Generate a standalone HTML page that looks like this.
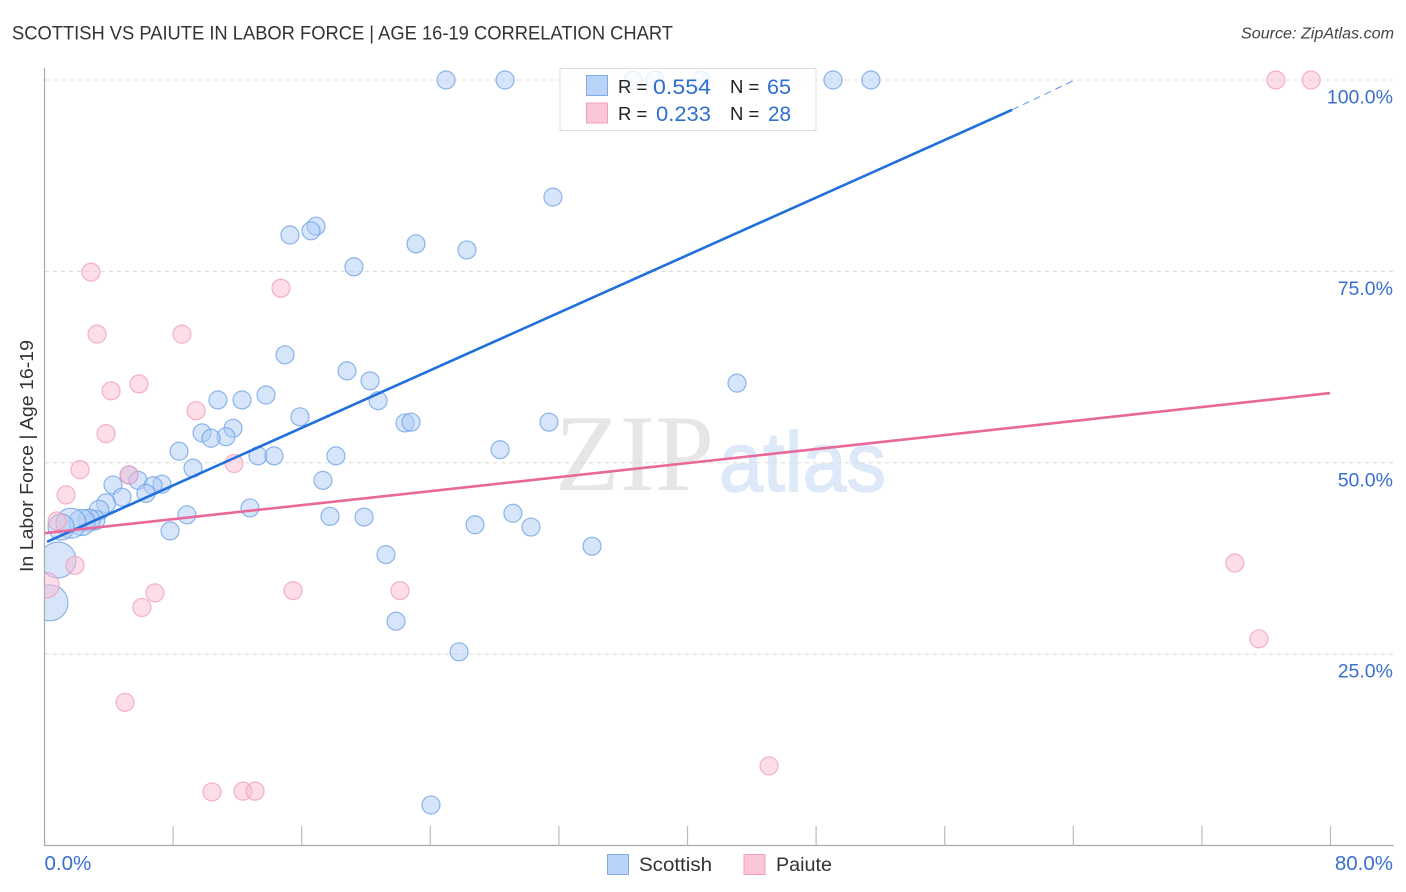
<!DOCTYPE html>
<html lang="en">
<head>
<meta charset="utf-8">
<title>Scottish vs Paiute in Labor Force | Age 16-19 Correlation Chart</title>
<style>
html,body{margin:0;padding:0;background:#fff;width:1406px;height:892px;overflow:hidden}
svg{display:block;font-family:"Liberation Sans",sans-serif}
</style>
</head>
<body>
<svg id="chart" width="1406" height="892" viewBox="0 0 1406 892" xmlns="http://www.w3.org/2000/svg">
  <defs>
    <clipPath id="plot-clip"><rect x="44.5" y="60" width="1350" height="785.5"/></clipPath>
  </defs>
  <text x="12" y="39.5" font-size="19.5" fill="#333" textLength="661" lengthAdjust="spacingAndGlyphs">SCOTTISH VS PAIUTE IN LABOR FORCE | AGE 16-19 CORRELATION CHART</text>
  <text x="1241" y="38.5" font-size="15.5" font-style="italic" fill="#444" textLength="153" lengthAdjust="spacingAndGlyphs">Source: ZipAtlas.com</text>
  <text x="555" y="490" font-family="'Liberation Serif',serif" font-size="109" fill="#e6e6e6" textLength="159" lengthAdjust="spacingAndGlyphs">ZIP</text>
  <text x="719" y="491" font-family="'Liberation Sans',sans-serif" font-size="84" fill="#dde8f8" stroke="#dde8f8" stroke-width="1.5" textLength="167" lengthAdjust="spacingAndGlyphs">atlas</text>
  <g id="grid"></g>
  <g id="points-scottish" clip-path="url(#plot-clip)"></g>
  <g id="points-paiute" clip-path="url(#plot-clip)"></g>
  <g id="trends"></g>
  <g id="axes"></g>
  <g id="tick-labels"></g>
  <text transform="translate(33,456) rotate(-90)" font-size="18.5" fill="#333" text-anchor="middle" textLength="232" lengthAdjust="spacingAndGlyphs">In Labor Force | Age 16-19</text>

  <g>
    <rect x="560" y="68.5" width="256" height="62" fill="#fff" fill-opacity="0.8" stroke="#ddd"/>
    <rect x="586.5" y="75.5" width="21" height="20" fill="#b9d4f8" stroke="#7fabe6"/>
    <rect x="586.5" y="103" width="21" height="20" fill="#fcc6d9" stroke="#f3a0bd"/>
    <text x="618" y="93" font-size="18.5" fill="#222">R =</text>
    <text x="653" y="94" font-size="21" fill="#2f6fd0" textLength="58" lengthAdjust="spacingAndGlyphs">0.554</text>
    <text x="730" y="93" font-size="18.5" fill="#222">N =</text>
    <text x="767" y="94" font-size="21" fill="#2f6fd0" textLength="24" lengthAdjust="spacingAndGlyphs">65</text>
    <text x="618" y="120" font-size="18.5" fill="#222">R =</text>
    <text x="656" y="121" font-size="21" fill="#2f6fd0" textLength="55" lengthAdjust="spacingAndGlyphs">0.233</text>
    <text x="730" y="120" font-size="18.5" fill="#222">N =</text>
    <text x="768" y="121" font-size="21" fill="#2f6fd0" textLength="23" lengthAdjust="spacingAndGlyphs">28</text>
  </g>

  <g>
    <rect x="607.5" y="854.5" width="21" height="20" fill="#b9d4f8" stroke="#7fabe6"/>
    <text x="639" y="871" font-size="19.5" fill="#333" textLength="73" lengthAdjust="spacingAndGlyphs">Scottish</text>
    <rect x="744" y="854.5" width="21" height="20" fill="#fcc6d9" stroke="#f3a0bd"/>
    <text x="776" y="871" font-size="19.5" fill="#333" textLength="56" lengthAdjust="spacingAndGlyphs">Paiute</text>
  </g>
</svg>
<script>
var xTickValues = [8, 16, 24, 32, 40, 48, 56, 64, 72, 80];
var yTickValues = [25, 50, 75, 100];
var yTickLabels = ['25.0%', '50.0%', '75.0%', '100.0%'];
var xEdgeValues = [0, 80];
var xEdgeLabels = ['0.0%', '80.0%'];

var scottishX = [24.98,28.65,36.61,37.98,40.84,49.05,51.41,31.63,16.89,16.58,15.27,23.11,26.28,19.25,14.96,18.82,20.25,43.08,13.78,10.79,12.29,20.75,15.89,22.43,22.8,31.38,11.73,9.8,11.29,10.36,8.37,28.34,13.28,14.28,18.13,9.24,17.32,5.26,5.82,7.31,6.75,4.26,6.31,4.82,3.83,3.39,12.78,8.86,17.76,19.88,29.14,26.78,30.26,7.81,34.06,21.24,21.87,25.79,24.04,3.14,2.77,2.33,1.65,1.03,0.84,0.34];
var scottishY = [100,100,100,100,100,100,100,84.7,80.9,80.3,79.75,78.6,77.8,75.6,64.1,62.0,60.7,60.4,58.85,58.2,58.2,58.1,56.0,55.2,55.3,55.3,54.5,53.9,53.4,53.2,51.5,51.7,50.9,50.9,50.9,49.3,47.7,48.4,47.7,47.2,47.0,47.1,46.0,45.5,44.7,43.8,44.1,43.2,43.0,42.9,43.4,41.9,41.6,41.1,39.1,38.0,29.3,25.3,5.3,42.5,42.5,42.2,42.1,41.6,37.3,31.7];
var scottishWeight = [1,1,1,1,1,1,1,1,1,1,1,1,1,1,1,1,1,1,1,1,1,1,1,1,1,1,1,1,1,1,1,1,1,1,1,1,1,1,1,1,1,1,1,1,1.1,1.2,1,1,1,1,1,1,1,1,1,1,1,1,1,1.2,1.5,2.1,2.8,2.1,4,4];

var paiuteX = [76.6,78.8,2.89,14.71,3.27,8.55,5.88,4.14,9.43,3.83,11.79,2.21,5.26,1.34,0.78,1.9,74.05,0.12,6.87,6.06,15.46,22.11,75.55,5.01,45.07,10.42,12.35,13.1];
var paiuteY = [100,100,74.9,72.8,66.8,66.8,60.3,59.4,56.8,53.8,49.9,49.1,48.4,45.8,42.4,36.6,36.9,34.0,33.0,31.1,33.3,33.3,27.0,18.7,10.4,7.0,7.1,7.1];
var paiuteWeight = [1,1,1,1,1,1,1,1,1,1,1,1,1,1,1,1,1,2,1,1,1,1,1,1,1,1,1,1];

var scottishTrendX = [0.16, 60.19];
var scottishTrendY = [39.67, 96.1];
var scottishTrendExtX = [60.19, 64.1];
var scottishTrendExtY = [96.1, 100];
var paiuteTrendX = [0, 79.97];
var paiuteTrendY = [40.8, 59.1];

var NS = 'http://www.w3.org/2000/svg';
function xScale(v) { return 44.5 + v * 16.075; }
function yScale(v) { return 845.5 - v * 7.655; }
function rScale(w) { return 9 * Math.sqrt(w); }
function make(tag, attrs, parent) {
  var el = document.createElementNS(NS, tag);
  for (var k in attrs) { el.setAttribute(k, attrs[k]); }
  parent.appendChild(el);
  return el;
}

var gridG = document.getElementById('grid');
yTickValues.forEach(function (v) {
  var l = make('line', {x1: 45, x2: 1394, y1: yScale(v), y2: yScale(v), stroke: '#dcdcdc', 'stroke-width': 1, 'stroke-dasharray': '4 4'}, gridG);
  
  
});

function drawPoints(groupId, xs, ys, ws, fill, stroke, name) {
  var g = document.getElementById(groupId);
  xs.forEach(function (x, i) {
    var c = make('circle', {cx: xScale(x), cy: yScale(ys[i]), r: rScale(ws[i]), fill: fill, 'fill-opacity': 0.5, stroke: stroke, 'stroke-opacity': 0.75, 'stroke-width': 1.2}, g);
    
    
  });
}
drawPoints('points-scottish', scottishX, scottishY, scottishWeight, '#aecbf5', '#6a9fe4', 'scottish-point');
drawPoints('points-paiute', paiuteX, paiuteY, paiuteWeight, '#f9bcd1', '#f29ab8', 'paiute-point');

var trendG = document.getElementById('trends');
var t1 = make('line', {x1: xScale(scottishTrendX[0]), y1: yScale(scottishTrendY[0]), x2: xScale(scottishTrendX[1]), y2: yScale(scottishTrendY[1]), stroke: '#1f6fdc', 'stroke-width': 2.6}, trendG);


var t2 = make('line', {x1: xScale(scottishTrendExtX[0]), y1: yScale(scottishTrendExtY[0]), x2: xScale(scottishTrendExtX[1]), y2: yScale(scottishTrendExtY[1]), stroke: '#5b95e6', 'stroke-width': 1, 'stroke-dasharray': '7 5'}, trendG);


var t3 = make('line', {x1: xScale(paiuteTrendX[0]), y1: yScale(paiuteTrendY[0]), x2: xScale(paiuteTrendX[1]), y2: yScale(paiuteTrendY[1]), stroke: '#e8689a', 'stroke-width': 2.6}, trendG);



var axesG = document.getElementById('axes');
var ay = make('line', {x1: 44.5, x2: 44.5, y1: 68, y2: 846, stroke: '#aaa', 'stroke-width': 1.2}, axesG);


var ax = make('line', {x1: 44, x2: 1394, y1: 845.5, y2: 845.5, stroke: '#aaa', 'stroke-width': 1.2}, axesG);


xTickValues.forEach(function (v) {
  var t = make('line', {x1: xScale(v), x2: xScale(v), y1: 826, y2: 845.5, stroke: '#bbb', 'stroke-width': 1.2}, axesG);
  
  
});

var labelsG = document.getElementById('tick-labels');
yTickValues.forEach(function (v, i) {
  var t = make('text', {x: 1393, y: yScale(v) + 23.5, 'font-size': 19.5, fill: '#3a6fd0', 'text-anchor': 'end'}, labelsG);
  t.textContent = yTickLabels[i];
  
  
});
xEdgeValues.forEach(function (v, i) {
  var t = make('text', {x: i === 0 ? xScale(v) : 1393, y: 870, 'font-size': 20.5, fill: '#3a6fd0', 'text-anchor': i === 0 ? 'start' : 'end'}, labelsG);
  t.textContent = xEdgeLabels[i];
  
  
});
</script>
</body>
</html>
